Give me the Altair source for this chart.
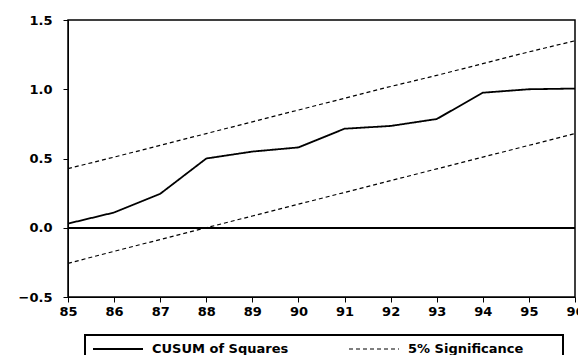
import altair as alt
import pandas as pd

years = list(range(85, 97))
cusum = [0.03, 0.11, 0.245, 0.50, 0.55, 0.58, 0.715, 0.735, 0.785, 0.975, 1.00, 1.005]
upper = [0.427, 0.51, 0.595, 0.68, 0.765, 0.85, 0.935, 1.02, 1.10, 1.185, 1.27, 1.35]
lower = [-0.257, -0.17, -0.085, 0.0, 0.085, 0.17, 0.255, 0.34, 0.425, 0.51, 0.595, 0.68]
series_names = ["CUSUM of Squares", "5% Significance"]

rows = []
for i, yr in enumerate(years):
    rows.append({"year": yr, "value": cusum[i], "series": series_names[0], "line": "cusum"})
    rows.append({"year": yr, "value": upper[i], "series": series_names[1], "line": "upper"})
    rows.append({"year": yr, "value": lower[i], "series": series_names[1], "line": "lower"})
df = pd.DataFrame(rows)

FONT = "DejaVu Sans"

x = alt.X("year:Q", scale=alt.Scale(domain=[85, 96], nice=False, zero=False),
          axis=alt.Axis(values=years, format="d", title=None, grid=False,
                        labelFlush=False, labelBound=False, labelOverlap=False,
                        tickSize=5, tickColor="black", domainColor="black",
                        labelFontSize=13, labelFontWeight="bold", labelFont=FONT,
                        labelColor="black", labelPadding=3))
y = alt.Y("value:Q", scale=alt.Scale(domain=[-0.5, 1.5], nice=False, zero=False),
          axis=alt.Axis(values=[-0.5, 0.0, 0.5, 1.0, 1.5], format=".1f", title=None, grid=False,
                        tickSize=5, tickColor="black", domainColor="black",
                        labelFontSize=13, labelFontWeight="bold", labelFont=FONT,
                        labelColor="black", labelPadding=11))

lines = alt.Chart(df).mark_line(color="black").encode(
    x=x, y=y,
    detail="line:N",
    strokeDash=alt.StrokeDash("series:N",
        scale=alt.Scale(domain=series_names, range=[[1, 0], [4, 3]]),
        legend=alt.Legend(title=None, orient="none", legendX=24, legendY=303,
                          direction="horizontal", columns=2, columnPadding=57,
                          symbolType="stroke", symbolSize=2500, symbolStrokeColor="black",
                          symbolStrokeWidth=1.5, labelOffset=8, padding=0,
                          labelFontSize=13, labelFontWeight="bold", labelFont=FONT,
                          labelColor="black")),
    strokeWidth=alt.StrokeWidth("series:N",
        scale=alt.Scale(domain=series_names, range=[1.8, 1.2]), legend=None),
)

zero = alt.Chart(df).mark_rule(color="black", strokeWidth=1.2).encode(y=alt.datum(0))

frame = alt.Chart(df).mark_rect(fill=None, stroke="black", strokeWidth=1.2).encode(
    x=alt.value(17), x2=alt.value(495), y=alt.value(315), y2=alt.value(350))

chart = alt.layer(zero, lines, frame).properties(
    width=507, height=277,
    padding={"left": 68, "top": 20, "right": 3, "bottom": 58},
    autosize=alt.AutoSizeParams(type="none"),
    background="white",
).configure_view(stroke="black", strokeWidth=1.5)

chart.save("out.html", embed_options={"renderer": "svg", "actions": False})
